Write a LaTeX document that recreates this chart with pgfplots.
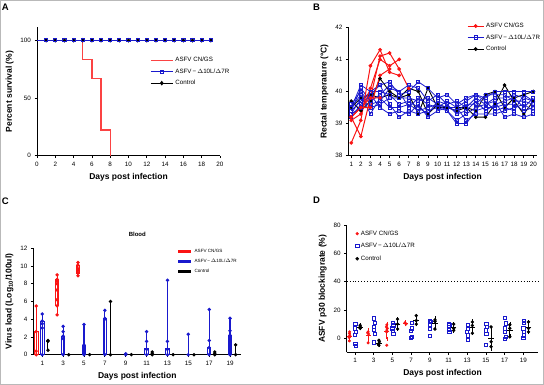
\documentclass[border=0pt]{standalone}
\usepackage{pgfplots}
\pgfplotsset{compat=1.18}
\usepackage{pgfplotstable}
\usepgfplotslibrary{statistics}
\usepackage{fontspec}
\setmainfont{Liberation Sans}

\definecolor{pblue}{RGB}{25,25,205}
\definecolor{pred}{RGB}{250,20,20}

\pgfplotsset{
 prism/.style={
  scale only axis,
  axis x line*=bottom, axis y line*=left,
  axis line style={line width=1pt},
  tick align=outside,
  major tick length=2.5pt,
  tick style={black, line width=0.8pt},
  tick label style={font=\fontsize{6.3}{7}\selectfont},
  /pgf/number format/assume math mode=true,
  label style={font=\bfseries\fontsize{8.5}{9}\selectfont},
  legend style={draw=none, fill=none, font=\fontsize{6.2}{7}\selectfont, inner sep=0pt, row sep=1.5pt, cells={anchor=west}},
  clip=false,
 }
}

\pgfplotstableread{
day r1 r2 r3 r4 r5
1 38.4 39.2 39.1 39.2 39.2
2 39.1 38.6 39.3 39.5 39.5
3 40.8 39.8 40.1 39.5 39.8
4 41.3 41.1 41.0 40.5 39.8
5 40.6 41.2 40.8 40.7 nan
6 40.5 40.7 41.0 nan nan
7 nan 40.1 nan nan nan
}\tred

\pgfplotstableread{
day b1 b2 b3 b4 b5 b6 b7 b8 c1 c2
1 39.5 39.4 39.3 39.5 39.2 39.3 39.4 39.6 39.7 39.5
2 40.2 40.1 39.8 39.9 39.6 39.5 39.7 40.0 39.4 39.8
3 40.0 39.7 39.5 39.3 39.9 39.9 40.0 39.6 39.7 39.9
4 40.2 39.9 39.6 39.8 39.5 40.2 40.0 39.7 40.4 39.8
5 40.3 40.2 39.8 39.5 39.3 39.6 39.9 40.1 40.0 39.9
6 39.9 40.0 39.8 39.5 39.4 39.2 39.6 40.0 39.8 39.8
7 40.0 40.2 39.8 39.6 39.3 39.4 39.7 39.5 40.1 39.9
8 40.3 40.1 39.7 39.4 39.6 39.3 39.5 39.8 40.0 39.3
9 40.1 39.7 39.8 39.5 39.2 39.4 39.3 39.6 39.3 40.1
10 39.8 39.9 39.6 39.6 39.4 39.5 39.7 39.5 39.6 39.5
11 39.9 39.6 39.5 39.4 39.5 39.4 39.6 39.7 39.5 39.5
12 39.6 39.7 39.4 39.0 39.5 39.1 39.3 39.5 39.5 39.4
13 39.8 39.5 39.6 39.0 39.1 39.3 39.4 39.7 39.5 39.5
14 39.9 39.8 39.6 39.4 39.3 39.5 39.7 39.9 39.2 39.4
15 39.8 39.6 39.9 39.5 39.3 39.6 39.4 39.7 39.2 39.9
16 40.0 39.8 39.9 39.5 39.3 39.7 39.6 39.4 39.6 40.0
17 40.0 39.8 39.9 39.6 39.4 39.2 39.7 39.5 40.2 39.5
18 40.0 39.9 39.7 39.6 39.5 39.3 39.8 39.4 39.7 39.8
19 40.0 39.8 39.7 39.4 39.6 39.2 39.5 39.9 39.3 39.9
20 40.0 39.7 39.6 39.5 39.4 39.3 39.8 39.7 39.7 40.0
}\tblue

\newcommand{\cbox}[4]{\addplot[#1, line width=0.9pt, fill=white, forget plot, boxplot prepared={draw direction=y, draw position=#2, lower whisker=#3, lower quartile=#3, median=#3, upper quartile=#4, upper whisker=#4, box extend=0.34, whisker extend=0}] coordinates {};}
\newcommand{\cpts}[2]{\addplot[#1, line width=1.1pt, mark=*, mark size=1.1pt, forget plot] coordinates {#2};}

\begin{document}
\begin{tikzpicture}
\path (0pt,0pt) rectangle (544pt,385pt);
\draw[gray!55, line width=0.8pt] (0.4pt,0.4pt) rectangle (543.6pt,384.6pt);
\node[font=\bfseries\fontsize{9.5}{10}\selectfont, anchor=north west, inner sep=0pt] at (1.7pt,381.7pt) {A};
\node[font=\bfseries\fontsize{9.5}{10}\selectfont, anchor=north west, inner sep=0pt] at (313pt,381.7pt) {B};
\node[font=\bfseries\fontsize{9.5}{10}\selectfont, anchor=north west, inner sep=0pt] at (1.7pt,187pt) {C};
\node[font=\bfseries\fontsize{9.5}{10}\selectfont, anchor=north west, inner sep=0pt] at (313pt,188pt) {D};

% ---------------- A ----------------
\begin{axis}[prism, at={(37pt,229.3pt)}, anchor=south west, width=183pt, height=128.3pt,
  xmin=0, xmax=20, ymin=0, ymax=111.2, xtick={0,2,...,20}, ytick={0,50,100},
  xlabel={Days post infection}, ylabel={Percent survival (\%)},
  legend style={at={(0.617,0.785)}, anchor=north west},
  legend image code/.code={\draw[mark repeat=2,mark phase=2,#1] plot coordinates {(0pt,0pt) (11pt,0pt) (22pt,0pt)};}]
\addlegendimage{pred!80, line width=1.3pt}
\addlegendentry{ASFV CN/GS}
\addlegendimage{pblue, line width=1pt, mark=square, mark size=1.6pt}
\addlegendentry{ASFV\,\textminus\,\(\Delta\)10L/\(\Delta\)7R}
\addlegendimage{black, line width=1pt, mark=diamond*, mark size=1.6pt}
\addlegendentry{Control}
\addplot[black, line width=1pt, mark=diamond*, mark size=1.5pt, forget plot] coordinates {(1,100)(2,100)(3,100)(4,100)(5,100)(6,100)(7,100)(8,100)(9,100)(10,100)(11,100)(12,100)(13,100)(14,100)(15,100)(16,100)(17,100)(18,100)(19,100)};
\addplot[pred!80, line width=1.3pt, const plot, forget plot] coordinates {(0,100)(5,83.3)(6,66.7)(7,22.2)(8,0)};
\addplot[pblue, line width=1pt, forget plot] coordinates {(0,100)(1,100)};
\addplot[pblue, line width=1pt, mark=square, mark size=1.6pt, forget plot] coordinates {(1,100)(2,100)(3,100)(4,100)(5,100)(6,100)(7,100)(8,100)(9,100)(10,100)(11,100)(12,100)(13,100)(14,100)(15,100)(16,100)(17,100)(18,100)(19,100)};
\end{axis}

% ---------------- B ----------------
\begin{axis}[prism, at={(348.3pt,229.3pt)}, anchor=south west, width=188.4pt, height=128.4pt,
  xmin=0.69, xmax=20.35, ymin=38, ymax=42, xtick={1,...,20}, ytick={38,...,42},
  xlabel={Days post infection}, ylabel={Rectal temperature (°C)},
  legend style={at={(0.63,1.05)}, anchor=north west},
  legend image code/.code={\draw[mark repeat=2,mark phase=2,#1] plot coordinates {(0pt,0pt) (8pt,0pt) (16pt,0pt)};}]
\addlegendimage{pred, line width=1pt, mark=*, mark size=1.4pt}
\addlegendentry{ASFV CN/GS}
\addlegendimage{pblue, line width=1pt, mark=square, mark size=1.6pt}
\addlegendentry{ASFV\,\textminus\,\(\Delta\)10L/\(\Delta\)7R}
\addlegendimage{black, line width=1pt, mark=*, mark size=1.4pt}
\addlegendentry{Control}
\pgfplotsinvokeforeach{c1,c2}{\addplot[black, line width=0.9pt, mark=*, mark size=1.3pt, forget plot] table[x=day, y=#1] {\tblue};}
\pgfplotsinvokeforeach{b1,b2,b3,b4,b5,b6,b7,b8}{\addplot[pblue, line width=0.8pt, mark=square, mark size=1.5pt, forget plot] table[x=day, y=#1] {\tblue};}
\pgfplotsinvokeforeach{r1,r2,r3,r4,r5}{\addplot[pred, line width=1pt, mark=*, mark size=1.3pt, forget plot] table[x=day, y=#1] {\tred};}
\end{axis}

% ---------------- C ----------------
\begin{axis}[prism, at={(33.3pt,30.3pt)}, anchor=south west, width=208pt, height=106.4pt,
  xmin=0.14, xmax=20.08, ymin=0, ymax=12, xtick={1,3,...,19}, ytick={0,2,...,12},
  title={Blood}, title style={font=\bfseries\fontsize{6}{7}\selectfont, yshift=2pt},
  xlabel={Days post infection}, ylabel={Virus load (Log\textsubscript{10}/100ul)},
  legend style={at={(0.69,1.015)}, anchor=north west, font=\fontsize{4.6}{5}\selectfont, row sep=1.2pt},
  legend image code/.code={\draw[#1] (0pt,0pt) -- (13pt,0pt);}]
\addlegendimage{pred, line width=2.6pt}
\addlegendentry{ASFV CN/GS}
\addlegendimage{pblue, line width=2.6pt}
\addlegendentry{ASFV\,\textminus\,\(\Delta\)10L/\(\Delta\)7R}
\addlegendimage{black, line width=2.6pt}
\addlegendentry{Control}
% red
\cbox{pred}{0.42}{0}{2.6}
\cpts{pred}{(0.42,0)(0.42,0.4)(0.42,2.6)(0.42,5.5)}
\cbox{pred}{2.42}{5.5}{8.5}
\cpts{pred}{(2.42,4.5)(2.42,5.5)(2.42,6.2)(2.42,7.3)(2.42,8.0)(2.42,8.3)(2.42,8.5)(2.42,9.0)}
\cbox{pred}{4.42}{9.2}{10.1}
\cpts{pred}{(4.42,8.9)(4.42,9.2)(4.42,9.5)(4.42,9.7)(4.42,10.1)(4.42,10.4)}
% blue
\cbox{pblue}{1}{0}{3.8}
\cpts{pblue}{(1,0)(1,3.0)(1,3.5)(1,3.8)(1,4.6)}
\cbox{pblue}{3}{0}{2.1}
\cpts{pblue}{(3,0)(3,1.8)(3,2.1)(3,2.6)(3,3.2)}
\cbox{pblue}{5}{0}{1.0}
\cpts{pblue}{(5,0)(5,0.6)(5,1.1)(5,3.4)}
\cbox{pblue}{7}{0}{4.1}
\cpts{pblue}{(7,0)(7,4.0)(7,4.1)(7,5.0)}
\cpts{pblue}{(9,0)(9,0.1)}
\cbox{pblue}{11}{0}{0.7}
\cpts{pblue}{(11,0)(11,0.6)(11,1.5)(11,2.6)}
\cbox{pblue}{13}{0}{0.7}
\cpts{pblue}{(13,0)(13,0.6)(13,1.5)(13,8.4)}
\cpts{pblue}{(15,0)(15,2.3)}
\cbox{pblue}{17}{0}{0.8}
\cpts{pblue}{(17,0)(17,0.8)(17,1.6)(17,5.1)}
\cbox{pblue}{19}{0}{2.2}
\cpts{pblue}{(19,0)(19,2.2)(19,2.7)(19,4.1)}
% black
\cpts{black}{(1.54,0.5)(1.54,1.5)(1.54,1.6)}
\cpts{black}{(3.54,0)}
\cpts{black}{(5.54,0)}
\cpts{black}{(7.54,0)(7.54,6.0)}
\cpts{black}{(9.54,0)}
\cpts{black}{(11.54,0)(11.54,0.1)(11.54,0.3)}
\cpts{black}{(13.54,0)}
\cpts{black}{(15.54,0)}
\cpts{black}{(17.54,0)(17.54,0.1)(17.54,0.3)}
\cpts{black}{(19.54,0)(19.54,1.1)}
\end{axis}

% ---------------- D ----------------
\begin{axis}[prism, at={(346.7pt,32.7pt)}, anchor=south west, width=191.6pt, height=127pt,
  xmin=0.11, xmax=20.6, ymin=-10, ymax=80, xtick={1,3,...,19}, ytick={0,20,...,80},
  xlabel={Days post infection}, ylabel={ASFV p30 blockingrate (\%)},
  legend style={at={(0.045,0.975)}, anchor=north west, row sep=2.5pt},
  legend image code/.code={\draw[mark repeat=2,mark phase=2,#1] plot coordinates {(0pt,0pt) (3pt,0pt) (6pt,0pt)};}]
\addlegendimage{only marks, pred, mark=*, mark size=1.4pt}
\addlegendentry{ASFV CN/GS}
\addlegendimage{only marks, pblue, mark=square, mark size=1.7pt, line width=0.8pt}
\addlegendentry{ASFV\,\textminus\,\(\Delta\)10L/\(\Delta\)7R}
\addlegendimage{only marks, black, mark=*, mark size=1.6pt}
\addlegendentry{Control}
\addplot[black, dotted, line width=0.9pt, forget plot] coordinates {(0.11,40)(20.6,40)};
% red
\addplot[pred, only marks, mark=*, mark size=1.3pt, forget plot] coordinates {
(0.4,3.3)(0.35,1.0)(0.42,4.5)(0.4,-1.9)(0.45,2.1)(0.38,0.5)
(2.4,4.5)(2.35,3.8)(2.45,3.0)(2.4,-3.3)
(4.4,9.5)(4.35,8)(4.45,7)(4.4,5.7)(4.38,4.5)(4.4,-5)
(6.35,11)(6.45,10)};
\addplot[pred, mark=-, mark size=2.5pt, only marks, forget plot, error bars/.cd, y dir=both, y explicit, error mark=-, error bar style={line width=0.8pt}, error mark options={mark size=2pt}] coordinates {
(0.4,1.6) +- (0,2.3) (2.4,2.0) +- (0,3.5) (4.4,4.9) +- (0,5.2) (6.4,10.5) +- (0,0.7)};
% blue
\addplot[pblue, only marks, mark=square, mark size=1.6pt, line width=0.8pt, forget plot] coordinates {
(1.05,10)(1.0,7)(1.1,4.5)(1.0,2.5)(1.05,-4.3)(1.1,-5.5)
(3.05,14)(3.1,11)(3.0,8)(3.05,6)(3.1,3.3)(3.0,-3)
(5.05,11)(5.1,9)(5.0,7)(5.05,5)(5.1,3)
(7.05,11)(7.1,7)(7.0,5)(7.05,1)(7.0,0)
(9.05,12)(9.1,11.5)(9.0,9)(9.05,7)(9.0,1.5)
(11.05,10)(11.1,9)(11.0,8)(11.05,6)(11.1,4.5)
(13.05,9)(13.1,7)(13.0,4.5)(13.05,2)(13.1,-1)
(15.05,10)(15.1,8)(15.0,5.5)(15.05,3)(15.0,-4.5)
(17.05,14.5)(17.1,10.5)(17.0,7)(17.05,4.5)(17.1,1)(17.0,-0.5)
(19.05,12)(19.1,11)(19.0,7)(19.05,4.5)(19.1,2)(19.0,0)};
% black
\addplot[black, only marks, mark=*, mark size=1.5pt, forget plot] coordinates {
(1.55,9.2)(1.55,8)(1.55,7)
(3.55,-1.5)(3.6,-2.6)(3.5,-4.3)(3.55,-5)
(5.55,13.5)(5.55,10)(5.55,6.5)
(7.55,16)(7.55,12.5)(7.55,10)
(9.55,13)(9.55,12)(9.55,6.5)
(11.55,10)(11.55,7)(11.55,5.5)
(13.55,11.5)(13.55,9)(13.55,3.5)
(15.55,8)(15.55,-2.5)(15.55,-6)
(17.55,9.5)(17.55,7)(17.55,1)
(19.55,11.5)(19.55,7)(19.55,4.5)};
\addplot[black, mark=-, mark size=2.8pt, only marks, forget plot, error bars/.cd, y dir=both, y explicit, error mark=-, error bar style={line width=0.8pt}, error mark options={mark size=2pt}] coordinates {
(1.55,8.1) +- (0,1.1) (3.55,-3.4) +- (0,1.6) (5.55,10) +- (0,3.5) (7.55,12.8) +- (0,3)
(9.55,10.5) +- (0,3.5) (11.55,7.5) +- (0,2.3) (13.55,8) +- (0,4.1) (15.55,-0.2) +- (0,7.3)
(17.55,5.8) +- (0,4.4) (19.55,7.7) +- (0,3.5)};
\end{axis}
\end{tikzpicture}
\end{document}
